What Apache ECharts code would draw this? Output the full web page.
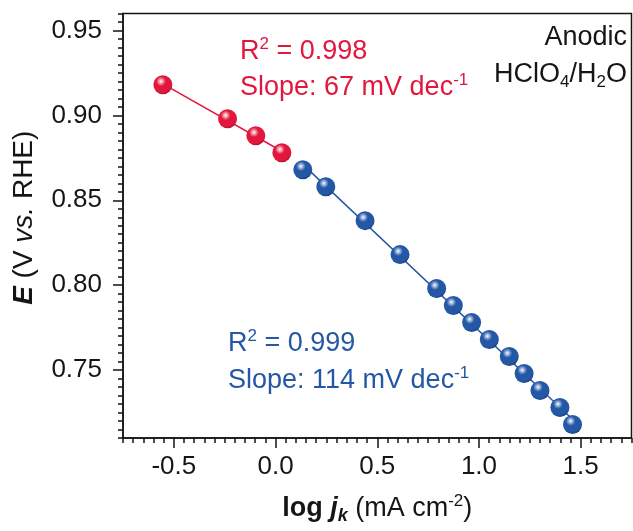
<!DOCTYPE html>
<html><head><meta charset="utf-8">
<script src="https://cdn.jsdelivr.net/npm/echarts@6/dist/echarts.min.js"></script>
<style>html,body{margin:0;padding:0;background:#fff}#c{width:633px;height:531px}</style>
</head><body><div id="c"></div>
<script>
// ---- data ----
const redX = [-0.554, -0.236, -0.097, 0.031];
const redY = [0.918, 0.898, 0.888, 0.878];
const blueX = [0.134, 0.247, 0.440, 0.612, 0.792, 0.874, 0.964, 1.051, 1.149, 1.222, 1.300, 1.398, 1.460];
const blueY = [0.868, 0.858, 0.838, 0.818, 0.798, 0.788, 0.778, 0.768, 0.758, 0.748, 0.738, 0.728, 0.718];
const xMajorTicks = [-0.5, 0.0, 0.5, 1.0, 1.5];
const yMajorTicks = [0.75, 0.80, 0.85, 0.90, 0.95];
const redLabels = ['{n|R}{sup|2}{n| = 0.998}', '{n|Slope: 67 mV dec}{sup|-1}'];
const blueLabels = ['{n|R}{sup|2}{n| = 0.999}', '{n|Slope: 114 mV dec}{sup|-1}'];
const conditionLabels = ['{n|Anodic}', '{n|HClO}{sub|4}{n|/H}{sub|2}{n|O}'];

const X_MIN = -0.75, X_MAX = 1.75, Y_MIN = 0.71, Y_MAX = 0.96;
const FONT = "'Liberation Sans', Arial, Helvetica, sans-serif";
const RED = '#e3173e', BLUE = '#2457a5', INK = '#151515';

function steps(a, b, s) { const out = []; const n = Math.round((b - a) / s); for (let i = 0; i <= n; i++) out.push(+(a + i * s).toFixed(4)); return out; }
const xMinorTicks = steps(X_MIN, X_MAX, 0.05);
const yMinorTicks = steps(Y_MIN, Y_MAX, 0.005);

function fit(xs, ys) {
  const n = xs.length; let sx = 0, sy = 0, sxx = 0, sxy = 0;
  for (let i = 0; i < n; i++) { sx += xs[i]; sy += ys[i]; sxx += xs[i] * xs[i]; sxy += xs[i] * ys[i]; }
  const m = (n * sxy - sx * sy) / (n * sxx - sx * sx), b = (sy - m * sx) / n;
  const x0 = Math.min(...xs), x1 = Math.max(...xs);
  return [[x0, m * x0 + b], [x1, m * x1 + b]];
}
const zip = (a, b) => a.map((v, i) => [v, b[i]]);

function ball(base, light, dark) {
  return new echarts.graphic.RadialGradient(0.4, 0.32, 0.72, [
    { offset: 0, color: '#ffffff' },
    { offset: 0.14, color: light },
    { offset: 0.35, color: base },
    { offset: 0.8, color: base },
    { offset: 1, color: dark }
  ]);
}

function rich(fs) {
  return {
    n: { fontSize: fs, fontFamily: FONT, lineHeight: 32, verticalAlign: 'middle' },
    sup: { fontSize: 17, fontFamily: FONT, lineHeight: 17, verticalAlign: 'top' },
    sub: { fontSize: 17, fontFamily: FONT, lineHeight: 17, verticalAlign: 'bottom' }
  };
}
function txt(text, x, y, color, align) {
  return { type: 'text', x: x, y: y, z: 10,
    style: { text: text, fill: color, fontSize: 27, fontFamily: FONT, rich: rich(27),
      align: align, textAlign: align, verticalAlign: 'middle', textVerticalAlign: 'middle' } };
}

const axisLineStyle = { color: INK, width: 1.5 };
const chart = echarts.init(document.getElementById('c'));
chart.setOption({
  animation: false,
  backgroundColor: '#fff',
  grid: { left: 123, right: 1.5, top: 13.5, bottom: 93, show: true, borderColor: INK, borderWidth: 1.5, containLabel: false },
  xAxis: [
    { type: 'value', min: X_MIN, max: X_MAX, position: 'bottom',
      axisLine: { show: true, onZero: false, lineStyle: axisLineStyle },
      axisTick: { show: true, customValues: xMajorTicks, length: 10, lineStyle: axisLineStyle },
      axisLabel: { customValues: xMajorTicks, formatter: v => v.toFixed(1), fontSize: 26, fontFamily: FONT, color: INK, margin: 16 },
      splitLine: { show: false },
      name: '{b|log }{bi|j}{bisub|k}{n| (mA cm}{sup|-2}{n|)}', nameLocation: 'middle', nameGap: 55,
      nameTextStyle: { fontSize: 27, fontFamily: FONT, color: INK, rich: {
        n: { fontSize: 27, fontFamily: FONT, lineHeight: 32, verticalAlign: 'middle' },
        b: { fontSize: 27, fontFamily: FONT, fontWeight: 'bold', lineHeight: 32, verticalAlign: 'middle' },
        bi: { fontSize: 27, fontFamily: FONT, fontWeight: 'bold', fontStyle: 'italic', lineHeight: 32, verticalAlign: 'middle' },
        bisub: { fontSize: 18, fontFamily: FONT, fontWeight: 'bold', fontStyle: 'italic', lineHeight: 17, verticalAlign: 'bottom' },
        sup: { fontSize: 17, fontFamily: FONT, lineHeight: 17, verticalAlign: 'top' } } } },
    { type: 'value', min: X_MIN, max: X_MAX, position: 'bottom',
      axisLine: { show: false, onZero: false },
      axisTick: { show: true, customValues: xMinorTicks, length: 5, lineStyle: axisLineStyle },
      axisLabel: { show: false }, splitLine: { show: false } }
  ],
  yAxis: [
    { type: 'value', min: Y_MIN, max: Y_MAX, position: 'left',
      axisLine: { show: true, onZero: false, lineStyle: axisLineStyle },
      axisTick: { show: true, customValues: yMajorTicks, length: 10, lineStyle: axisLineStyle },
      axisLabel: { customValues: yMajorTicks, formatter: v => v.toFixed(2), fontSize: 26, fontFamily: FONT, color: INK, margin: 21 },
      splitLine: { show: false },
      name: '{bi|E}{n| (V }{i|vs.}{n| RHE)}', nameLocation: 'middle', nameGap: 83,
      nameTextStyle: { fontSize: 28, fontFamily: FONT, color: INK, padding: [0, 0, 0, 16], rich: {
        n: { fontSize: 28, fontFamily: FONT, lineHeight: 32, verticalAlign: 'middle' },
        i: { fontSize: 28, fontFamily: FONT, fontStyle: 'italic', lineHeight: 32, verticalAlign: 'middle' },
        bi: { fontSize: 28, fontFamily: FONT, fontWeight: 'bold', fontStyle: 'italic', lineHeight: 32, verticalAlign: 'middle' } } } },
    { type: 'value', min: Y_MIN, max: Y_MAX, position: 'left',
      axisLine: { show: false, onZero: false },
      axisTick: { show: true, customValues: yMinorTicks, length: 5, lineStyle: axisLineStyle },
      axisLabel: { show: false }, splitLine: { show: false } }
  ],
  series: [
    { type: 'line', data: fit(redX, redY), symbol: 'none', lineStyle: { color: RED, width: 1.5 }, z: 2, silent: true },
    { type: 'line', data: fit(blueX, blueY), symbol: 'none', lineStyle: { color: BLUE, width: 1.5 }, z: 2, silent: true },
    { type: 'scatter', data: zip(redX, redY), symbol: 'circle', symbolSize: 19, z: 3,
      itemStyle: { color: ball(RED, '#f3a0b0', '#a80d2b'), opacity: 1 } },
    { type: 'scatter', data: zip(blueX, blueY), symbol: 'circle', symbolSize: 19, z: 3,
      itemStyle: { color: ball(BLUE, '#9fb7dc', '#173c7c'), opacity: 1 } }
  ],
  graphic: [
    txt(redLabels[0], 240, 52, RED, 'left'),
    txt(redLabels[1], 240, 88, RED, 'left'),
    txt(conditionLabels[0], 627, 38, INK, 'right'),
    txt(conditionLabels[1], 627, 75, INK, 'right'),
    txt(blueLabels[0], 228, 344, BLUE, 'left'),
    txt(blueLabels[1], 228, 381, BLUE, 'left')
  ]
});
</script></body></html>
